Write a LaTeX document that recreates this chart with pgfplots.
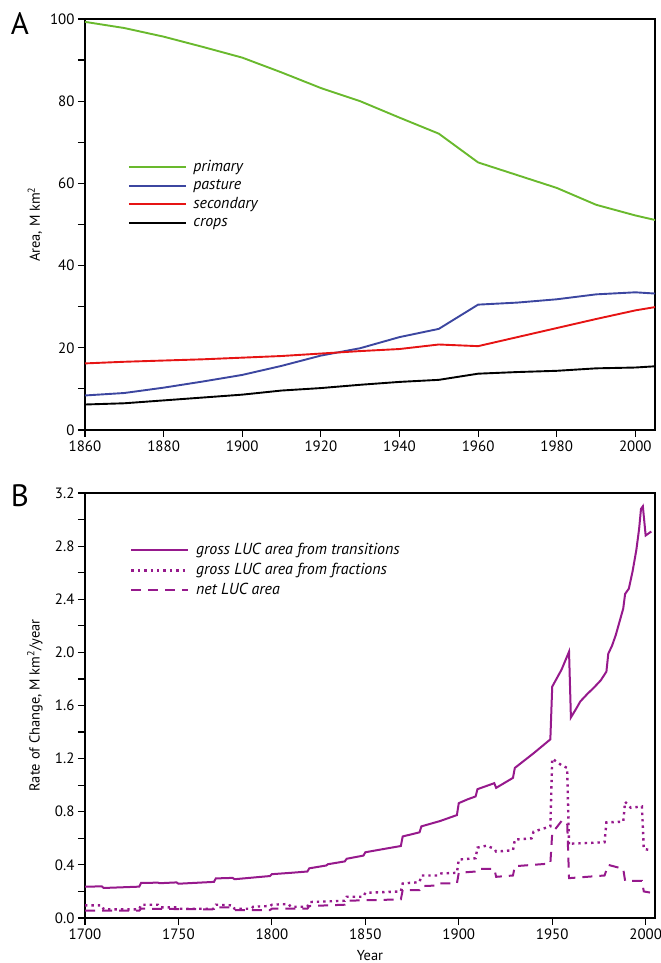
\documentclass[border=0pt]{standalone}
\usepackage{fontspec}
\setmainfont{PT Sans}
\usepackage{pgfplots}
\pgfplotsset{compat=1.18}
\definecolor{prim}{RGB}{105,185,45}
\definecolor{past}{RGB}{60,70,160}
\definecolor{sec}{RGB}{230,20,20}
\definecolor{luc}{RGB}{150,25,140}
\newcommand{\legfont}{\itshape\fontsize{16}{16}\selectfont}
\newcommand{\labfont}{\fontsize{14.5}{14.5}\selectfont}
\pgfplotsset{
  myaxis/.style={
    scale only axis,
    width=570bp,
    axis line style={line width=1.4bp},
    tick align=outside,
    tick pos=left,
    major tick length=7bp,
    minor tick length=7bp,
    every tick/.style={black, line width=1.2bp},
    /pgf/number format/assume math mode=true,
    tick label style={font=\fontsize{15}{15}\selectfont},
    every axis y label/.style={at={(axis description cs:-0.088,0.5)}, rotate=90, anchor=center, font=\labfont},
    every axis x label/.style={at={(axis description cs:0.5,-0.088)}, anchor=center, font=\labfont},
    legend style={draw=none, fill=none, inner sep=0pt, row sep=0bp, column sep=5bp,
      font=\legfont, nodes={inner sep=1.5bp, font=\legfont, text height=11.5bp, text depth=4bp}},
    legend cell align=left,
    legend image code/.code={\draw[##1] (0bp,0bp) -- (57bp,0bp);},
  }
}
\begin{document}
\begin{tikzpicture}
\path[use as bounding box] (0bp,0bp) rectangle (661bp,963bp);
\node[font=\fontsize{31}{31}\selectfont, anchor=center] at (20bp,939bp) {A};
\node[font=\fontsize{31}{31}\selectfont, anchor=center] at (20bp,467bp) {B};
% Panel A
\begin{axis}[myaxis,
  at={(85bp,533bp)}, anchor=south west,
  height=411bp,
  xmin=1860, xmax=2005, ymin=0, ymax=100,
  xtick={1860,1880,...,2000},
  ytick={0,20,...,100}, minor y tick num=1,
  xticklabel style={/pgf/number format/1000 sep={}},
  ylabel={Area, M km\textsuperscript{2}},
  legend style={at={(axis description cs:0.075,0.662)}, anchor=north west},
]
\addplot[prim, line width=1.9bp] coordinates {
(1860,99.3) (1870,97.8) (1880,95.7) (1890,93.2) (1900,90.6) (1910,87.0) (1920,83.2)
(1930,80.0) (1940,76.0) (1950,72.1) (1960,65.1) (1970,62.0) (1980,58.9) (1990,54.8)
(2000,52.2) (2005,51.1)};
\addlegendentry{primary}
\addplot[past, line width=1.9bp] coordinates {
(1860,8.4) (1870,9.0) (1880,10.3) (1890,11.8) (1900,13.4) (1910,15.6) (1920,18.1)
(1930,19.9) (1940,22.6) (1950,24.6) (1960,30.5) (1970,31.0) (1980,31.8) (1990,33.0)
(2000,33.5) (2005,33.2)};
\addlegendentry{pasture}
\addplot[sec, line width=1.9bp] coordinates {
(1860,16.2) (1870,16.6) (1880,16.9) (1890,17.2) (1900,17.6) (1910,18.0) (1920,18.6)
(1930,19.2) (1940,19.7) (1950,20.8) (1960,20.4) (1970,22.6) (1980,24.8) (1990,27.0)
(2000,29.1) (2005,29.9)};
\addlegendentry{secondary}
\addplot[black, line width=1.9bp] coordinates {
(1860,6.2) (1870,6.5) (1880,7.2) (1890,7.9) (1900,8.6) (1910,9.6) (1920,10.2)
(1930,11.0) (1940,11.7) (1950,12.2) (1960,13.7) (1970,14.1) (1980,14.4) (1990,15.0)
(2000,15.2) (2005,15.5)};
\addlegendentry{crops}
\end{axis}
% Panel B
\begin{axis}[myaxis,
  at={(85bp,45bp)}, anchor=south west,
  height=425bp,
  xmin=1700, xmax=2005, ymin=0, ymax=3.2,
  xtick={1700,1750,...,2000},
  ytick={0,0.4,...,3.2}, minor y tick num=1,
  xticklabel style={/pgf/number format/1000 sep={}},
  yticklabel style={/pgf/number format/.cd, fixed, fixed zerofill, precision=1},
  ylabel={Rate of Change, M km\textsuperscript{2}/year},
  xlabel={Year},
  legend style={at={(axis description cs:0.079,0.887)}, anchor=north west, row sep=1.5bp},
]
\addplot[luc, line width=2bp] coordinates {
(1700,0.236) (1709,0.238) (1710,0.226) (1729,0.236) (1730,0.264) (1739,0.266) (1740,0.262)
(1749,0.268) (1750,0.258) (1769,0.272) (1770,0.298) (1779,0.302) (1780,0.292) (1799,0.316)
(1800,0.330) (1810,0.340) (1819,0.350) (1820,0.374) (1829,0.395) (1830,0.405) (1839,0.426)
(1840,0.446) (1849,0.470) (1850,0.495) (1860,0.520) (1869,0.542) (1870,0.614) (1879,0.645)
(1880,0.690) (1890,0.730) (1899,0.775) (1900,0.865) (1905,0.895) (1909,0.915) (1910,0.970)
(1919,1.015) (1920,0.980) (1929,1.055) (1930,1.130) (1940,1.240) (1949,1.345) (1950,1.742)
(1955,1.870) (1959,2.005) (1960,1.510) (1963,1.580) (1965,1.630) (1969,1.690) (1972,1.730)
(1976,1.790) (1979,1.855) (1980,1.990) (1982,2.050) (1984,2.130) (1986,2.230) (1988,2.330)
(1989,2.440) (1990,2.460) (1991,2.480) (1993,2.610) (1995,2.770) (1996.5,2.930) (1997.5,3.080)
(1998.5,3.100) (2000,2.880) (2001,2.890) (2003,2.910)};
\addlegendentry{gross LUC area from transitions}
\addplot[luc, line width=2.4bp, dash pattern=on 2.4bp off 4bp] coordinates {
(1700,0.095) (1709,0.095) (1710,0.065) (1729,0.065) (1730,0.100) (1739,0.100) (1740,0.080)
(1749,0.080) (1750,0.070) (1769,0.070) (1770,0.100) (1779,0.095) (1780,0.070) (1789,0.070)
(1790,0.085) (1799,0.090) (1800,0.100) (1809,0.105) (1810,0.085) (1819,0.085) (1820,0.120)
(1839,0.130) (1840,0.160) (1849,0.160) (1850,0.190) (1869,0.200) (1870,0.260) (1879,0.270)
(1880,0.320) (1889,0.320) (1890,0.335) (1899,0.340) (1900,0.440) (1909,0.450) (1910,0.530)
(1915,0.545) (1919,0.520) (1920,0.500) (1929,0.510) (1930,0.590) (1939,0.600) (1940,0.650)
(1949,0.690) (1950,1.200) (1955,1.150) (1958,1.130) (1959,0.550) (1960,0.560) (1978,0.570)
(1979,0.720) (1988,0.725) (1989,0.875) (1992,0.830) (1998,0.840) (1999,0.520) (2003,0.510)};
\addlegendentry{gross LUC area from fractions}
\addplot[luc, line width=2bp, dash pattern=on 10bp off 7bp] coordinates {
(1700,0.055) (1729,0.055) (1730,0.070) (1769,0.065) (1770,0.080) (1779,0.080) (1780,0.060)
(1799,0.060) (1800,0.070) (1819,0.070) (1820,0.090) (1839,0.100) (1840,0.130) (1869,0.140)
(1870,0.210) (1879,0.210) (1880,0.240) (1889,0.245) (1890,0.260) (1899,0.260) (1900,0.340)
(1909,0.350) (1910,0.370) (1919,0.370) (1920,0.310) (1929,0.320) (1930,0.390) (1949,0.410)
(1950,0.640) (1955,0.730) (1958,0.720) (1959,0.300) (1978,0.320) (1980,0.400) (1988,0.370)
(1989,0.280) (1998,0.280) (1999,0.200) (2003,0.190)};
\addlegendentry{net LUC area}
\end{axis}
\end{tikzpicture}
\end{document}
